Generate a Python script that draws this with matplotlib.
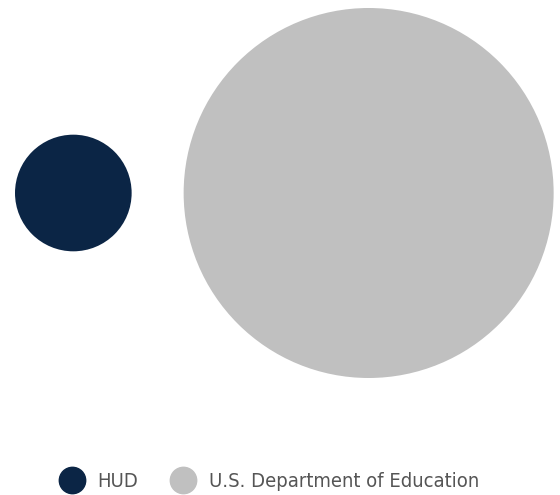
import numpy as np
import matplotlib
matplotlib.use("Agg")
import matplotlib.pyplot as plt
from matplotlib.patches import Circle
from matplotlib.lines import Line2D
from matplotlib.font_manager import FontProperties

# data
agencies = ['HUD', 'U.S. Department of Education']
values = [8.0, 80.5]
colors = ['#0b2545', '#c0c0c0']

fig = plt.figure(figsize=(5.6, 4.95), dpi=100)
ax = fig.add_axes([0, 0, 1, 1])
ax.set_xlim(0, 560)
ax.set_ylim(495, 0)
ax.set_aspect('equal')
ax.axis('off')

# radius proportional to sqrt(value) -> area proportional to value
k = 185 / np.sqrt(max(values))
radii = [k * np.sqrt(v) for v in values]

left = 15
gap = 52
cy = 193
x = left
for name, r, c in zip(agencies, radii, colors):
    ax.add_patch(Circle((x + r, cy), r, color=c, lw=0))
    x += 2 * r + gap

prop = FontProperties(family='DejaVu Sans', stretch='condensed', size=14.5)
handles = [Line2D([], [], marker='o', ls='', markersize=19, color=c, label=n)
           for n, c in zip(agencies, colors)]
leg = fig.legend(handles=handles, loc='lower center', ncol=2, frameon=False,
                 prop=prop, bbox_to_anchor=(0.481, -0.029), handletextpad=0.7,
                 columnspacing=1.6, handlelength=1.2)
for t in leg.get_texts():
    t.set_color('#555555')

fig.savefig('out.png', dpi=100)
